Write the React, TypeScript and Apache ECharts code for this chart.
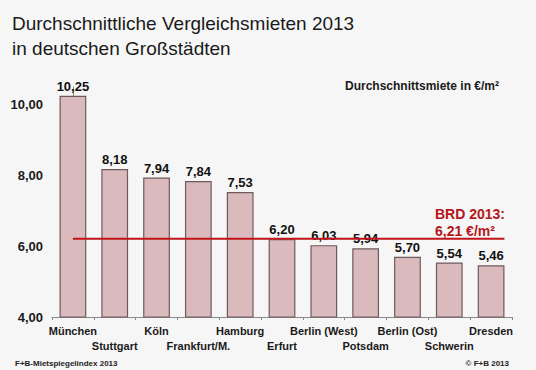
import React, { useEffect, useRef } from "react";
import * as echarts from "echarts";

const cities = [
  "München",
  "Stuttgart",
  "Köln",
  "Frankfurt/M.",
  "Hamburg",
  "Erfurt",
  "Berlin (West)",
  "Potsdam",
  "Berlin (Ost)",
  "Schwerin",
  "Dresden",
];
const rents = [10.25, 8.18, 7.94, 7.84, 7.53, 6.2, 6.03, 5.94, 5.7, 5.54, 5.46];
const brdAverage = 6.21;
const brdLineX = [0, 10.32];
const yTicks = [4, 6, 8, 10];

const fmt = (v: number) => v.toFixed(2).replace(".", ",");
const FONT = "Liberation Sans, Arial, sans-serif";

export default function App() {
  const ref = useRef<HTMLDivElement>(null);
  useEffect(() => {
    if (!ref.current) return;
    const chart = echarts.init(ref.current, null, { renderer: "svg" });
    chart.setOption({
      animation: false,
      backgroundColor: "#f6f6f6",
      textStyle: { fontFamily: FONT },
      grid: { left: 52, right: 24, top: 87, bottom: 53 },
      title: [
        {
          text: "Durchschnittliche Vergleichsmieten 2013\nin deutschen Großstädten",
          left: 7,
          top: 6,
          textStyle: {
            fontFamily: FONT,
            fontSize: 19,
            fontWeight: "normal",
            color: "#1a1a1a",
            lineHeight: 25,
          },
        },
        {
          text: "Durchschnittsmiete in €/m²",
          right: 32,
          top: 75,
          textStyle: { fontFamily: FONT, fontSize: 12, fontWeight: "bold", color: "#1a1a1a" },
        },
        {
          text: "F+B-Mietspiegelindex 2013",
          left: 10,
          top: 354,
          textStyle: { fontFamily: FONT, fontSize: 8, fontWeight: "bold", color: "#222" },
        },
        {
          text: "© F+B 2013",
          right: 22,
          top: 354,
          textStyle: { fontFamily: FONT, fontSize: 8, fontWeight: "bold", color: "#222" },
        },
      ],
      graphic: [
        {
          type: "text",
          right: 31,
          top: 205,
          z: 10,
          style: {
            text: `BRD 2013:\n${fmt(brdAverage)} €/m²`,
            fontFamily: FONT,
            fontSize: 14,
            fontWeight: "bold",
            fill: "#b5161b",
            lineHeight: 17,
            align: "center",
          },
        },
      ],
      xAxis: [
        {
          type: "category",
          data: cities,
          axisLine: { lineStyle: { color: "#8a8a8a", width: 1 } },
          axisTick: { show: true, length: 3, lineStyle: { color: "#8a8a8a" } },
          axisLabel: {
            interval: 0,
            fontFamily: FONT,
            fontSize: 11,
            fontWeight: "bold",
            color: "#1a1a1a",
            lineHeight: 15,
            margin: 6,
            formatter: (v: string, i: number) => (i % 2 ? "\n" + v : v),
          },
        },
        {
          type: "value",
          min: -0.5,
          max: cities.length - 0.5,
          show: false,
        },
      ],
      yAxis: {
        type: "value",
        min: 4,
        max: 10.5,
        interval: 2,
        splitLine: { show: false },
        axisLine: { show: true, lineStyle: { color: "#8a8a8a", width: 1 } },
        axisTick: { show: true, length: 4, customValues: yTicks, lineStyle: { color: "#8a8a8a" } },
        axisLabel: {
          customValues: yTicks,
          fontFamily: FONT,
          fontSize: 13,
          fontWeight: "bold",
          color: "#1a1a1a",
          margin: 9,
          formatter: (v: number) => fmt(v),
        },
      },
      series: [
        {
          type: "bar",
          data: rents,
          barWidth: "64%",
          itemStyle: { color: "#dbbabd", borderColor: "#6e5a5c", borderWidth: 1.2 },
          label: {
            show: true,
            position: "top",
            distance: 3,
            fontFamily: FONT,
            fontSize: 13,
            fontWeight: "bold",
            color: "#111",
            formatter: (p: any) => fmt(p.value),
          },
        },
        {
          type: "line",
          xAxisIndex: 1,
          data: brdLineX.map((x) => [x, brdAverage]),
          symbol: "none",
          lineStyle: { color: "#c0141a", width: 2 },
          z: 5,
        },
      ],
    });
    return () => chart.dispose();
  }, []);
  return <div ref={ref} style={{ width: 536, height: 370, position: "absolute", left: 0, top: 0 }} />;
}
